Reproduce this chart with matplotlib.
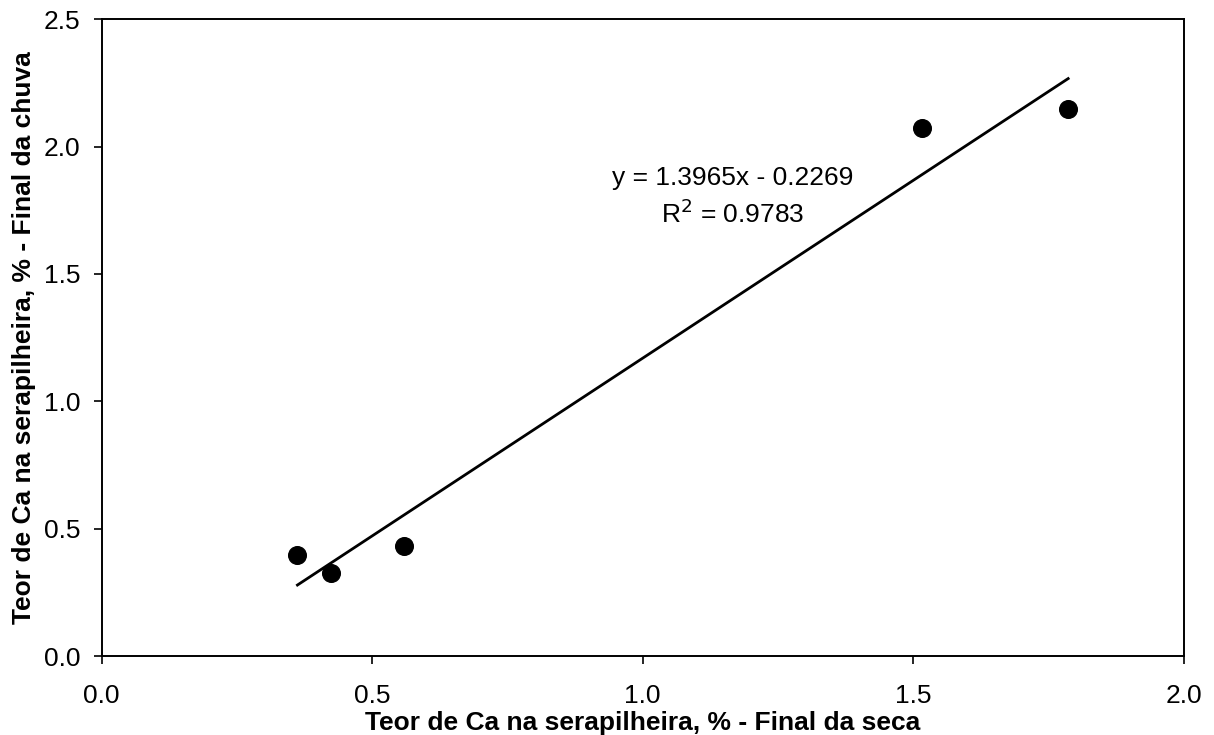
import matplotlib
matplotlib.use("Agg")
import matplotlib.pyplot as plt
import numpy as np

# Data
x_seca = [0.362, 0.424, 0.559, 1.516, 1.786]
y_chuva = [0.395, 0.326, 0.433, 2.072, 2.146]
slope = 1.3965
intercept = -0.2269
r2 = 0.9783
x_ticks = [0.0, 0.5, 1.0, 1.5, 2.0]
y_ticks = [0.0, 0.5, 1.0, 1.5, 2.0, 2.5]

plt.rcParams['font.family'] = ['Liberation Sans', 'DejaVu Sans']
FS = 19

fig = plt.figure(figsize=(12.14, 7.35), dpi=100)
ax = fig.add_axes([101.5/1214, 1-656/735, (1184-101.5)/1214, (656-19.3)/735])

ax.plot(x_seca, y_chuva, 'o', color='black', markersize=12.7, zorder=3)
xl = np.array([min(x_seca), max(x_seca)])
ax.plot(xl, slope*xl + intercept, color='black', linewidth=2.0, zorder=2)

ax.text(1.166, 1.877, f"y = {slope:.4f}x - {abs(intercept):.4f}", ha='center', va='center', fontsize=FS)
ax.text(1.166, 1.735, f"R$^2$ = {r2:.4f}", ha='center', va='center', fontsize=FS)

ax.set_xlim(0, 2.0)
ax.set_ylim(0, 2.5)
ax.set_xticks(x_ticks)
ax.set_yticks(y_ticks)
ax.set_xticklabels([f"{v:.1f}" for v in x_ticks])
ax.set_yticklabels([f"{v:.1f}" for v in y_ticks])
ax.tick_params(axis='both', direction='out', length=6, width=1.2, labelsize=FS)
ax.tick_params(axis='x', pad=14)
ax.tick_params(axis='y', pad=9)
for s in ax.spines.values():
    s.set_linewidth(1.4)

ax.set_xlabel("Teor de Ca na serapilheira, % - Final da seca", fontsize=FS, fontweight='bold', labelpad=2)
ax.set_ylabel("Teor de Ca na serapilheira, % - Final da chuva", fontsize=FS, fontweight='bold', labelpad=6)

fig.savefig("out.png", dpi=100)
